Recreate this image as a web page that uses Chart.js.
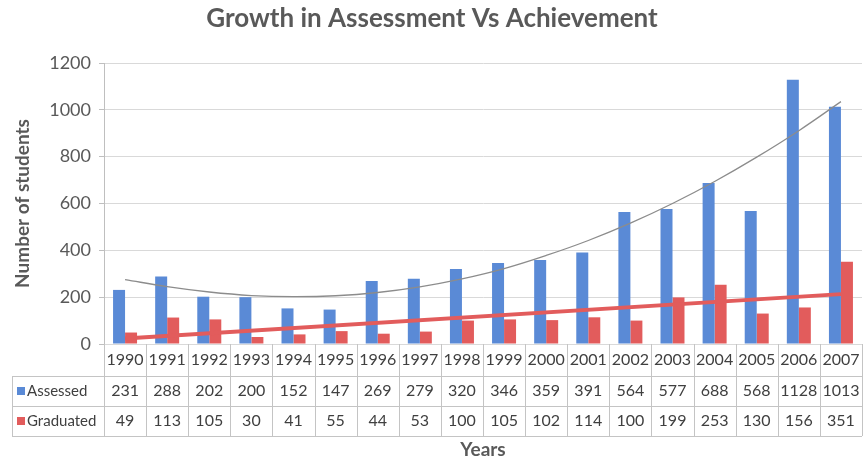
<!DOCTYPE html>
<html lang="en">
<head>
  <meta charset="UTF-8">
  <title>Growth in Assessment Vs Achievement</title>
  <script src="https://cdn.jsdelivr.net/npm/chart.js"></script>
  <style>
    body {
      margin: 0;
      background: #ffffff;
    }

    .chart-container {
      position: relative;
      width: 865px;
      height: 461px;
    }
  </style>
</head>
<body>
  <div class="chart-container">
    <canvas id="growthChart"></canvas>
  </div>

  <script>
    const years = ["1990", "1991", "1992", "1993", "1994", "1995", "1996", "1997", "1998",
                   "1999", "2000", "2001", "2002", "2003", "2004", "2005", "2006", "2007"];
    const assessed = [231, 288, 202, 200, 152, 147, 269, 279, 320, 346, 359, 391, 564, 577, 688, 568, 1128, 1013];
    const graduated = [49, 113, 105, 30, 41, 55, 44, 53, 100, 105, 102, 114, 100, 199, 253, 130, 156, 351];
    // trendlines as they appear in the picture
    const assessedTrend = [275, 245, 222, 207, 202, 206, 220, 244, 278, 322, 378, 442, 516, 600, 694, 798, 911, 1035];
    const graduatedTrend = [24, null, null, null, null, null, null, null, null,
                            null, null, null, null, null, null, null, null, 213];
    const yTicks = [0, 200, 400, 600, 800, 1000, 1200];
    const seriesNames = ["Assessed", "Graduated"];

    const blue = "#5a8ad6";
    const red = "#e25c5c";
    const textGray = "#404040";
    const lineGray = "#c4c4c4";
    const fontName = "Lato, 'Open Sans', sans-serif";

    // title, axis title and data table under the plot
    const tablePlugin = {
      id: "dataTable",
      afterDraw(chart) {
        const ctx = chart.ctx;
        const area = chart.chartArea;
        const x = chart.scales.x;
        const catW = (area.right - area.left) / years.length;
        const rowTop = [area.bottom, 376, 406, 436];
        const tableLeft = 12;

        ctx.save();
        ctx.strokeStyle = lineGray;
        ctx.lineWidth = 1;

        // vertical lines of the table
        for (let i = 0; i <= years.length; i++) {
          const lx = Math.round(area.left + i * catW) + 0.5;
          ctx.beginPath();
          ctx.moveTo(lx, area.bottom);
          ctx.lineTo(lx, rowTop[3]);
          ctx.stroke();
        }
        ctx.beginPath();
        ctx.moveTo(tableLeft + 0.5, rowTop[1]);
        ctx.lineTo(tableLeft + 0.5, rowTop[3]);
        ctx.stroke();

        // horizontal lines
        for (let r = 1; r < rowTop.length; r++) {
          ctx.beginPath();
          ctx.moveTo(tableLeft, rowTop[r] + 0.5);
          ctx.lineTo(area.right, rowTop[r] + 0.5);
          ctx.stroke();
        }

        // cell text
        ctx.fillStyle = textGray;
        ctx.font = "16px " + fontName;
        ctx.textAlign = "center";
        ctx.textBaseline = "middle";
        const rows = [years, assessed, graduated];
        rows.forEach((row, r) => {
          const cy = (rowTop[r] + rowTop[r + 1]) / 2;
          row.forEach((v, i) => {
            ctx.fillText(String(v), x.getPixelForValue(i), cy);
          });
        });

        // legend keys in the table
        const keyColors = [blue, red];
        ctx.textAlign = "left";
        ctx.font = "15px " + fontName;
        seriesNames.forEach((name, k) => {
          const cy = (rowTop[k + 1] + rowTop[k + 2]) / 2;
          ctx.fillStyle = keyColors[k];
          ctx.fillRect(17, cy - 4, 8, 8);
          ctx.fillStyle = textGray;
          ctx.fillText(name, 27, cy);
        });

        // title
        ctx.textAlign = "center";
        ctx.fillStyle = "#595959";
        ctx.font = "bold 26px " + fontName;
        ctx.fillText("Growth in Assessment Vs Achievement", 432, 19);

        // x axis title
        ctx.font = "bold 19px " + fontName;
        ctx.fillText("Years", (area.left + area.right) / 2, 450);
        ctx.restore();
      }
    };

    const ctx = document.getElementById("growthChart").getContext("2d");

    new Chart(ctx, {
      data: {
        labels: years,
        datasets: [
          {
            type: "line",
            label: "Assessed trend",
            data: assessedTrend,
            borderColor: "#8c8c8c",
            borderWidth: 1.3,
            pointRadius: 0,
            tension: 0.4,
            order: 0
          },
          {
            type: "line",
            label: "Graduated trend",
            data: graduatedTrend,
            borderColor: red,
            borderWidth: 4,
            pointRadius: 0,
            spanGaps: true,
            order: 0
          },
          {
            type: "bar",
            label: seriesNames[0],
            data: assessed,
            backgroundColor: blue,
            categoryPercentage: 0.57,
            barPercentage: 1.0,
            order: 1
          },
          {
            type: "bar",
            label: seriesNames[1],
            data: graduated,
            backgroundColor: red,
            categoryPercentage: 0.57,
            barPercentage: 1.0,
            order: 1
          }
        ]
      },
      options: {
        responsive: true,
        maintainAspectRatio: false,
        animation: false,
        layout: {
          padding: { top: 63, bottom: 117, left: 0, right: 3 }
        },
        plugins: {
          legend: { display: false },
          tooltip: { enabled: false },
          title: { display: false }
        },
        scales: {
          x: {
            display: false
          },
          y: {
            min: 0,
            max: 1200,
            afterBuildTicks: (scale) => {
              scale.ticks = yTicks.map(v => ({ value: v }));
            },
            afterFit: (scale) => {
              scale.width = 104;
            },
            grid: {
              color: "#d9d9d9",
              tickLength: 5,
              tickColor: "#bfbfbf"
            },
            border: {
              display: true,
              color: "#bfbfbf"
            },
            ticks: {
              color: "#595959",
              padding: 8,
              font: { family: fontName, size: 18 },
              callback: (value) => String(value)
            },
            title: {
              display: true,
              text: "Number of students",
              color: "#595959",
              padding: { top: 11, bottom: 0 },
              font: { family: fontName, size: 19, weight: "bold" }
            }
          }
        }
      },
      plugins: [tablePlugin]
    });
  </script>
</body>
</html>
